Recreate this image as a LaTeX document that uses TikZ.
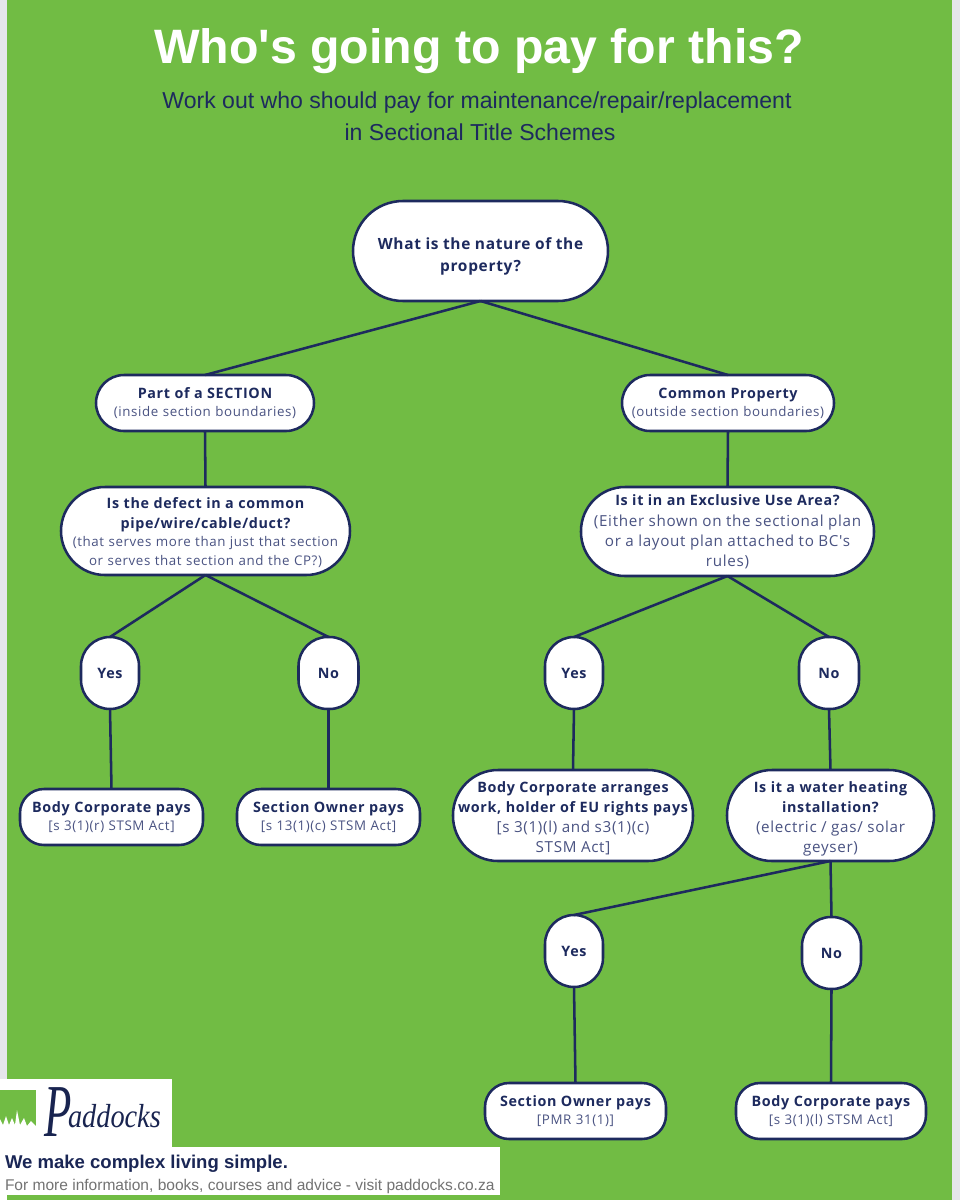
\documentclass[tikz,border=0pt]{standalone}
\usepackage{fontspec}
\setmainfont{Liberation Sans}
\newfontfamily\titlefont{Liberation Sans}
\newfontfamily\boxfont[LetterSpace=4.5]{Open Sans}
\newfontfamily\logofont{Liberation Serif}
\definecolor{pgreen}{HTML}{71BC44}
\definecolor{navy}{HTML}{1D2A5E}
\definecolor{subnavy}{HTML}{4A5382}
\definecolor{strip}{HTML}{E6E6EC}
\newcommand{\qh}[1]{{\fontsize{10.75pt}{15pt}\selectfont\boxfont\bfseries\color{navy}#1\par}}
\newcommand{\qH}[1]{{\fontsize{11.6pt}{16.5pt}\selectfont\boxfont\bfseries\color{navy}#1\par}}
\newcommand{\qs}[1]{{\fontsize{10pt}{13.6pt}\selectfont\boxfont\color{subnavy}#1\par}}
\newcommand{\qS}[1]{{\fontsize{11.4pt}{15pt}\selectfont\boxfont\color{subnavy}#1\par}}
\tikzset{
  pill/.style n args={3}{draw=navy,line width=1.9pt,fill=white,rectangle,inner sep=0pt,outer sep=0pt,
    align=center,text width=#1*0.75pt,minimum width=#1*0.75pt,minimum height=#2*0.75pt,rounded corners=#3*0.75pt},
  link/.style={draw=navy,line width=1.9pt},
  plain/.style={inner sep=0pt,outer sep=0pt}
}
\begin{document}
\begin{tikzpicture}[x=0.75pt,y=-0.75pt]
\useasboundingbox (0,0) rectangle (960,1200);
\fill[pgreen] (0,0) rectangle (960,1200);
\fill[strip] (0,0) rectangle (7,1200);
\fill[strip] (952,0) rectangle (960,1200);

\node[plain,text=white,font=\titlefont\fontsize{36.2pt}{40pt}\selectfont\bfseries] (title) at (479,51) {Who's going to pay for this?};
\node[plain,text=navy,align=center,font=\fontsize{17.3pt}{24pt}\selectfont] (subtitle) at (477,116) {Work out who should pay for maintenance/repair/replacement\\\hspace*{4.5pt}in Sectional Title Schemes};

\node[pill={255}{100}{50}] (root) at (480.5,251) {\qH{\rule{0pt}{16.5pt}What is the nature of the\\property?}};
\node[pill={218}{56}{28}] (sec) at (205,403) {\qh{Part of a SECTION}\qs{(inside section boundaries)}};
\node[pill={212}{56}{28}] (cp) at (728,403) {\qh{Common Property}\qs{(outside section boundaries)}};
\node[pill={289}{88}{44}] (defect) at (205.5,531) {\qh{\rule{0pt}{10.5pt}Is the defect in a common\\pipe/wire/cable/duct?}\qs{(that serves more than just that section\\or serves that section and the CP?)}};
\node[pill={293}{89}{44}] (eua) at (727.5,531.5) {\qh{Is it in an Exclusive Use Area?}\vspace{1pt}\qS{(Either shown on the sectional plan\\or a layout plan attached to BC's\\rules)}};
\node[pill={58}{72}{29}] (y1) at (110,673) {\qh{Yes}};
\node[pill={60}{72}{29}] (n1) at (328.5,673) {\qh{No}};
\node[pill={58}{72}{29}] (y2) at (574,673) {\qh{Yes}};
\node[pill={60}{72}{29}] (n2) at (829,673) {\qh{No}};
\node[pill={183}{56}{24}] (bc1) at (111.5,817) {\qh{Body Corporate pays}\qs{[s 3(1)(r) STSM Act]}};
\node[pill={183}{56}{24}] (so1) at (328.5,817) {\qh{Section Owner pays}\qs{[s 13(1)(c) STSM Act]}};
\node[pill={240}{91}{45}] (arr) at (573,815.5) {\qh{\rule{0pt}{12.5pt}Body Corporate arranges\\work, holder of EU rights pays}\qS{[s 3(1)(l) and s3(1)(c)\\STSM Act]}};
\node[pill={207}{91}{45}] (wh) at (830.5,815.5) {\qh{\rule{0pt}{12.5pt}Is it a water heating\\installation?}\qS{(electric / gas/ solar\\geyser)}};
\node[pill={58}{72}{29}] (y3) at (574,951) {\qh{Yes}};
\node[pill={59}{72}{29}] (n3) at (831.5,953) {\qh{No}};
\node[pill={181}{56}{24}] (so2) at (575.5,1111) {\qh{Section Owner pays}\qs{[PMR 31(1)]}};
\node[pill={190}{56}{24}] (bc2) at (831,1111) {\qh{Body Corporate pays}\qs{[s 3(1)(l) STSM Act]}};

\draw[link] (root.south) -- (sec.north);
\draw[link] (root.south) -- (cp.north);
\draw[link] (sec.south) -- (defect.north);
\draw[link] (cp.south) -- (eua.north);
\draw[link] (defect.south) -- (y1.north);
\draw[link] (defect.south) -- (n1.north);
\draw[link] (eua.south) -- (y2.north);
\draw[link] (eua.south) -- (n2.north);
\draw[link] (y1.south) -- (bc1.north);
\draw[link] (n1.south) -- (so1.north);
\draw[link] (y2.south) -- (arr.north);
\draw[link] (n2.south) -- (wh.north);
\draw[link] (wh.south) -- (y3.north);
\draw[link] (wh.south) -- (n3.north);
\draw[link] (y3.south) -- (so2.north);
\draw[link] (n3.south) -- (bc2.north);

% logo panel
\fill[white] (0,1079) rectangle (172,1147);
\fill[white] (0,1147) rectangle (500,1195);
\fill[white] (0,1195) rectangle (7,1200);
\fill[pgreen] (0,1090) rectangle (36,1128);
\fill[white] (0,1128) -- (0,1119) -- (3,1125) -- (6,1116) -- (9,1125) -- (12,1118) -- (15,1125) -- (17,1110) -- (20,1125) -- (24,1118) -- (27,1126) -- (31,1121) -- (36,1126) -- (36,1128) -- cycle;
\node[plain,text=navy!85!black,anchor=base west,xscale=0.6,font=\logofont\itshape\fontsize{56pt}{56pt}\selectfont] (logoP) at (44,1136) {P};
\node[plain,text=navy!85!black,anchor=base west,xscale=0.85,font=\logofont\itshape\fontsize{25pt}{25pt}\selectfont] (logoT) at (68,1127) {addocks};
\node[plain,anchor=base west,text=navy!90!black,font=\fontsize{13.9pt}{15pt}\selectfont\bfseries] (tag) at (5,1168) {We make complex living simple.};
\node[plain,anchor=base west,text=black!55,font=\fontsize{11.65pt}{13pt}\selectfont] (more) at (5,1190) {For more information, books, courses and advice - visit paddocks.co.za};
\end{tikzpicture}
\end{document}
